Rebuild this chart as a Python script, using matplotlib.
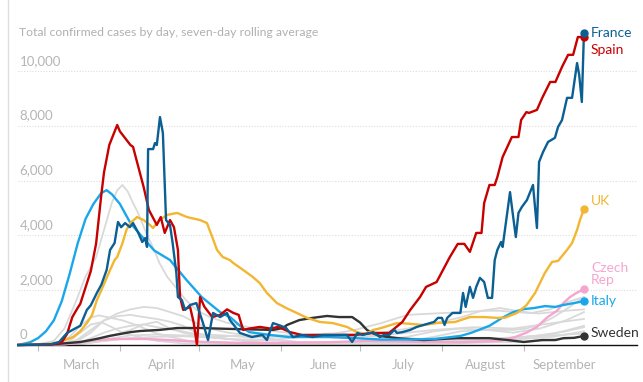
import matplotlib
matplotlib.use("Agg")
import matplotlib.pyplot as plt
from matplotlib.lines import Line2D

# x values are days counted from 1 March 2020
month_starts = [0, 31, 61, 92, 122, 153, 184]
month_mids = [16.5, 47, 77.5, 108, 138.5, 169.5, 199.5]
month_names = ["March", "April", "May", "June", "July", "August", "September"]
y_ticks = [0, 2000, 4000, 6000, 8000, 10000]
title = "Total confirmed cases by day, seven-day rolling average"

france_day = [-7.5, 5, 8, 11, 14, 16, 18.5, 20, 22.3, 24, 26, 27.3, 29, 30.3, 31.5, 33, 34.8, 36, 38,
              39.5, 40.6, 41.3, 41.7, 43.6, 44.3, 45, 46.2, 47.3, 48.5, 50, 51, 52.4, 53, 54.5, 55.7,
              57.6, 60, 62.5, 64.4, 66.3, 69, 71.6, 72.7, 76.5, 81, 85, 86.7, 89, 92, 94, 96.6, 100,
              104, 108, 113, 117, 119, 121, 123, 127, 129.5, 131, 133, 135, 136, 138, 141, 143.5, 146,
              148.5, 150, 151.5, 153, 154, 155, 157, 160, 161, 162, 163.6, 164.8, 166, 167.4, 169,
              170.4, 172, 173, 174, 175.4, 176, 178.8, 180, 181, 182, 183.3, 185.2, 187.5, 189, 189.8,
              191.3, 193.2, 195.8, 197, 198.5, 200.4, 202.3, 204.2, 205, 206, 206.8]
france_val = [0, 30, 110, 440, 600, 700, 1280, 1450, 1900, 2200, 2740, 3470, 3720, 4490, 4300, 4450, 4300, 4450, 4090,
              3760, 3900, 3580, 7150, 7150, 7370, 7300, 8320, 7740, 4560, 4380, 3720, 2630, 1750, 1640, 1280,
              1460, 1530, 800, 180, 1170, 1020, 1170, 910, 440, 290, 365, 180, 800, 700, 620, 290, 365,
              290, 365, 365, 365, 110, 440, 365, 470, 290, 365, 365, 550, 440, 470, 550, 660, 730,
              800, 840, 990, 990, 730, 990, 1170, 1170, 1900, 1390, 2120, 1720, 2120, 2450, 2300,
              1720, 1720, 3100, 3470, 3760, 3580, 5580, 4670, 3940, 4820, 5040, 5290, 5840, 4270, 6680,
              7040, 7410, 7560, 7960, 8210, 9020, 9020, 10290, 9860, 8870, 11390]

spain_day = [-7.5, 5, 9, 11, 13, 15, 16, 18, 20, 22, 24, 25, 27, 30, 31, 33, 35, 36, 38, 40, 42, 45, 46.5,
             48, 50, 51.5, 53, 53.8, 55, 57.6, 59, 60.2, 61.4, 63, 66, 69, 71.6, 74, 76, 77.7, 80, 84,
             88, 91, 95.5, 100, 110, 120, 127, 133, 138, 141, 144.7, 147, 151, 156, 159, 161.5, 163.6,
             166, 168, 169, 171, 173, 174, 176, 179.5, 182, 183, 185, 186, 189, 191, 194, 196, 198.5,
             200.8, 202.7, 204.5, 206.8]
spain_val = [0, 20, 100, 400, 1020, 1350, 1500, 2100, 2700, 3700, 5500, 6300, 7300, 8030, 7800, 7550, 7300, 7230, 6500, 5770, 4930, 4380, 4670,
             4090, 4560, 4300, 3470, 1750, 1280, 1390, 800, 0, 1750, 1400, 1020, 1100, 1300, 1170, 1100, 550, 600, 660,
             600, 660, 470, 365, 365, 365, 440, 440, 840, 1280, 1750, 2120, 2300, 3210, 3690, 3690, 3400,
             4090, 4090, 5180, 5840, 5840, 6130, 6860, 7590, 7590, 8210, 8500, 8470, 8580, 9020, 9600, 9600, 10150,
             10590, 10590, 11240, 11240]

uk_day = [-7.5, 5, 8.3, 13.3, 16, 18.5, 20.5, 22.3, 24, 27.3, 29, 30, 32, 33.5, 35, 37.5, 40, 42.4, 43.6, 46,
          49, 52.7, 56.4, 61.4, 64, 66, 67.8, 70, 72.7, 74, 77.7, 81.4, 84, 86.7, 90.5, 94, 98, 101.9, 106.8,
          111.7, 117, 120.8, 124, 127, 130, 136, 140, 146, 151, 158, 163.6, 169, 173.9, 177, 181.4, 185,
          188.3, 192, 194.7, 197, 200.4, 202.3, 204.2, 205.3, 206.8]
uk_val = [0, 50, 110, 290, 500, 800, 1100, 1640, 2000, 2740, 3100, 3210, 3720, 4200, 4450, 4670, 4560, 4380, 4270, 4560,
          4750, 4820, 4670, 4560, 4450, 3940, 3470, 3210, 3100, 2990, 2740, 2480, 2260, 1900, 1530, 1350, 1170, 990, 840,
          800, 660, 470, 400, 550, 620, 800, 780, 730, 800, 840, 1020, 1020, 990, 1000, 1170, 1450,
          1900, 2630, 3030, 3070, 3470, 3720, 4200, 4560, 4960]

italy_day = [-7.5, -3, 0, 3, 6, 9, 12, 15, 18, 21, 24, 26, 28, 31, 35, 39, 44, 50, 56, 62, 69, 73, 77, 80,
             88, 95, 110, 120, 130, 140, 150, 160, 164, 171, 176, 180, 184, 188, 192, 196, 199, 203, 206.8]
italy_val = [0, 100, 250, 500, 900, 1600, 2600, 3700, 4600, 5150, 5550, 5650, 5500, 5150, 4450, 4000, 3450, 3100, 2400, 1750, 1200, 1000, 660, 470,
             365, 290, 290, 250, 200, 200, 220, 330, 440, 700, 1000, 1200, 1310, 1350, 1420, 1390, 1460, 1530, 1600]

czech_day = [-7.5, 10, 16, 22, 30, 40, 50, 60, 75, 90, 110, 125, 140, 160, 175, 181, 185, 189, 192.8,
             196.6, 199, 201.5, 204, 206.8]
czech_val = [0, 20, 100, 180, 220, 220, 180, 120, 80, 80, 100, 150, 120, 100, 150, 300, 450, 660, 1000,
             1250, 1530, 1750, 1900, 2040]

sweden_day = [-7.5, 5, 10, 16, 20, 23.5, 27, 31, 35, 38.6, 46, 52.7, 61.4, 71.6, 80, 89, 92.8, 94.3, 99,
              104, 109.5, 114, 119, 122, 124.6, 127, 129.5, 136, 146, 158.7, 171, 178, 184, 191, 196,
              199, 203, 206.8]
sweden_val = [0, 20, 60, 110, 180, 250, 330, 400, 470, 510, 550, 620, 620, 590, 570, 550, 620, 730, 910,
              990, 1060, 1020, 1020, 820, 550, 420, 330, 250, 180, 250, 250, 180, 110, 180, 180,
              250, 260, 330]

# other countries, drawn in grey
grey_a_day = [-7.5, 0, 6, 10, 14, 18, 22, 25, 28, 30, 32, 34, 36, 38, 41, 44, 46, 49, 53, 56, 60, 65, 72,
              80, 90, 100, 110, 120, 130, 140, 150, 160, 168, 175, 181, 187, 194, 200, 206.8]
grey_a_val = [0, 20, 150, 600, 1500, 2500, 3200, 4200, 5200, 5650, 5840, 5600, 5180, 4800, 4090, 3470, 2990, 2480, 2010, 1640, 1280, 1020, 800,
              650, 500, 380, 420, 400, 450, 600, 800, 1000, 1250, 1350, 1250, 1170, 1300, 1550, 1750]
grey_b_day = [-7.5, 10, 15, 20, 25, 30, 35, 40, 45, 50, 55, 60, 65, 72, 80, 90, 100, 110, 120, 130, 140,
              150, 160, 170, 180, 190, 200, 206.8]
grey_b_val = [0, 30, 150, 450, 900, 1150, 1300, 1390, 1350, 1200, 1050, 800, 600, 450, 350, 200, 100, 90, 100, 150, 300,
              500, 600, 550, 450, 600, 900, 1200]
grey_c_day = [-7.5, 10, 15, 20, 25, 30, 35, 40, 45, 50, 55, 60, 65, 72, 80, 90, 100, 110, 120, 130, 140,
              150, 160, 170, 180, 185, 190, 195, 200, 206.8]
grey_c_val = [0, 30, 200, 550, 900, 1050, 1100, 1020, 950, 850, 700, 450, 300, 220, 180, 170, 80, 60, 60, 80, 130,
              300, 500, 550, 550, 600, 750, 1000, 1300, 1750]
grey_d_day = [-7.5, 8, 12, 16, 20, 23, 27, 32, 38, 44, 50, 57, 65, 80, 100, 115, 130, 150, 165, 180, 195, 206.8]
grey_d_val = [0, 50, 300, 700, 1000, 1080, 1000, 900, 700, 450, 300, 150, 60, 30, 25, 60, 100, 170, 200, 280, 350, 420]
grey_e_day = [-7.5, 12, 16, 20, 25, 30, 35, 40, 45, 52, 60, 70, 80, 90, 100, 110, 120, 130, 140, 150, 165,
              180, 190, 200, 206.8]
grey_e_val = [0, 20, 100, 250, 450, 600, 700, 750, 650, 550, 400, 350, 280, 300, 330, 320, 330, 310, 250, 190, 170,
              250, 350, 500, 650]
grey_f_day = [-7.5, 15, 20, 25, 30, 35, 40, 45, 50, 55, 60, 70, 80, 90, 110, 130, 150, 170, 185, 195, 206.8]
grey_f_val = [0, 20, 150, 250, 400, 550, 750, 850, 600, 450, 350, 250, 120, 60, 15, 15, 40, 90, 120, 200, 300]
grey_g_day = [-7.5, 8, 12, 16, 20, 24, 28, 32, 38, 45, 55, 70, 90, 110, 130, 150, 165, 180, 195, 206.8]
grey_g_val = [0, 30, 150, 450, 750, 830, 650, 450, 300, 150, 60, 40, 40, 60, 100, 100, 150, 250, 400, 700]
grey_h_day = [-7.5, 15, 25, 35, 45, 55, 65, 75, 90, 100, 110, 120, 130, 140, 150, 160, 170, 175, 180, 190,
              200, 206.8]
grey_h_val = [0, 20, 150, 250, 300, 320, 270, 200, 200, 300, 380, 550, 800, 1100, 1150, 1200, 1250, 1250, 1200, 1150,
              1250, 1300]
grey_i_day = [-7.5, 15, 25, 35, 45, 55, 65, 80, 95, 110, 120, 135, 150, 165, 180, 195, 206.8]
grey_i_val = [0, 50, 200, 350, 380, 350, 300, 350, 350, 300, 280, 400, 550, 650, 600, 800, 950]
grey_j_day = [-7.5, 15, 25, 35, 45, 60, 80, 100, 120, 140, 160, 180, 195, 206.8]
grey_j_val = [0, 30, 150, 250, 200, 120, 60, 40, 50, 80, 120, 200, 300, 500]

grey_days = [grey_a_day, grey_b_day, grey_c_day, grey_d_day, grey_e_day,
             grey_f_day, grey_g_day, grey_h_day, grey_i_day, grey_j_day]
grey_vals = [grey_a_val, grey_b_val, grey_c_val, grey_d_val, grey_e_val,
             grey_f_val, grey_g_val, grey_h_val, grey_i_val, grey_j_val]

# name, days, values, colour, label offset in points (dx, dy)
highlighted = [
    ("Czech\nRep", czech_day, czech_val, "#f5a6cf", (5, 11)),
    ("Sweden", sweden_day, sweden_val, "#333333", (5, 2)),
    ("Italy", italy_day, italy_val, "#1aa7ea", (5, 0)),
    ("UK", uk_day, uk_val, "#f2b631", (5, 6)),
    ("Spain", spain_day, spain_val, "#c70000", (5, -9)),
    ("France", france_day, france_val, "#0b5f93", (5, 0)),
]

fig = plt.figure(figsize=(6.43, 3.82), dpi=100)
ax = fig.add_axes([18 / 643, 37 / 382, 619 / 643, 328.8 / 382])
plt.rcParams['font.family'] = ['Lato', 'DejaVu Sans']
font = ['Lato', 'DejaVu Sans']

for d, v in zip(grey_days, grey_vals):
    ax.plot(d, v, color="#d9d9d9", lw=1.3, clip_on=False, zorder=2)

for name, d, v, col, off in highlighted:
    ax.plot(d, v, color=col, lw=1.7, clip_on=False, zorder=3, solid_joinstyle="round")
    ax.plot(d[-1], v[-1], "o", color=col, ms=5, clip_on=False, zorder=4)
    ax.annotate(name, (d[-1], v[-1]), xytext=off, textcoords="offset points",
                color=col, fontsize=10, va="center", ha="left", family=font,
                linespacing=1.05, annotation_clip=False)

ax.set_xlim(-7.58, 226.9)
ax.set_ylim(0, 12000)

for sp in ["top", "right", "left"]:
    ax.spines[sp].set_visible(False)
ax.spines["bottom"].set_color("#111111")
ax.spines["bottom"].set_linewidth(1.0)

ax.set_yticks([])
for t in y_ticks:
    if t > 0:
        ax.axhline(t, color="#dddddd", lw=0.8, ls=(0, (1, 1.5)), zorder=1)
    ax.annotate(f"{t:,}", (0, t), xycoords=("axes fraction", "data"), xytext=(1, 3),
                textcoords="offset points", color="#b5b5b5", fontsize=9.5, va="bottom",
                ha="left", family=font)

ax.set_xticks(month_starts)
ax.set_xticklabels([])
ax.tick_params(axis="x", which="major", length=4, color="#bbbbbb", width=0.8)
ax.set_xticks(month_mids, minor=True)
ax.set_xticklabels(month_names, minor=True, color="#b5b5b5", fontsize=9.5, family=font)
ax.tick_params(axis="x", which="minor", length=0, pad=10)

fig.text(19 / 643, 1 - 33 / 382, title, color="#b0b0b0", fontsize=8.8, va="center",
         ha="left", family=font)
fig.add_artist(Line2D([7.5 / 643, 7.5 / 643], [0, 1], color="#dedede", lw=1))

fig.savefig("out.png", dpi=100)
